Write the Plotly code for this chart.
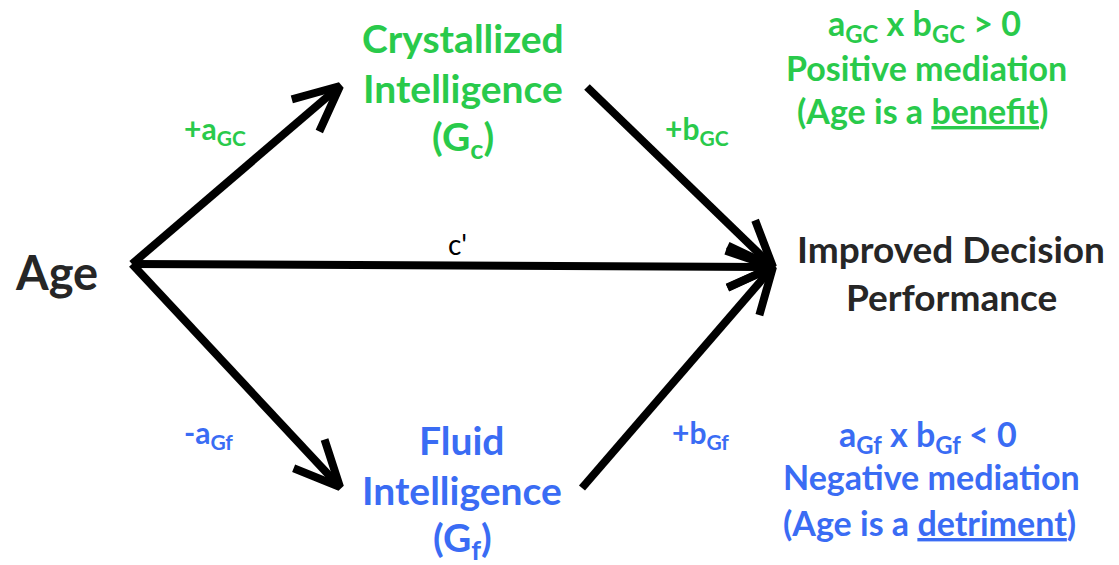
import math
import plotly.graph_objects as go

# ---- diagram content ----
GREEN = "#29CA4B"
BLUE = "#3A6CF4"
DARK = "#262626"

# edges: (start point, tip point)
edge_names = ["Age->Gc", "Age->Outcome", "Age->Gf", "Gc->Outcome", "Gf->Outcome"]
edge_x0 = [132, 132, 132, 587, 582]
edge_y0 = [264, 264, 264, 87, 488]
edge_x1 = [340, 773, 340, 773, 773]
edge_y1 = [86, 267, 487, 267, 267]

# path labels
path_labels = ["+a<sub>GC</sub>", "+b<sub>GC</sub>", "-a<sub>Gf</sub>", "+b<sub>Gf</sub>", "c'"]
path_label_x = [215, 697, 208, 700, 457]
path_label_y = [130, 130, 434, 434, 244]
path_label_color = [GREEN, GREEN, BLUE, BLUE, "#000000"]

# node labels (one line each)
node_lines = ["Age", "Crystallized", "Intelligence", "(G<sub>c</sub>)",
              "Fluid", "Intelligence", "(G<sub>f</sub>)",
              "Improved Decision", "Performance"]
node_x = [56, 463, 463, 463, 462, 462, 462, 951, 951]
node_y = [272, 38, 88, 139, 440, 490, 540, 248, 296]
node_color = [DARK, GREEN, GREEN, GREEN, BLUE, BLUE, BLUE, DARK, DARK]
node_size = [47, 39, 39, 39, 39, 39, 39, 37, 37]

# mediation notes
note_lines = ["a<sub>GC</sub> x b<sub>GC</sub> > 0", "Positive mediation",
              "(Age is a <u>benefit</u>)",
              "a<sub>Gf</sub> x b<sub>Gf</sub> < 0", "Negative mediation",
              "(Age is a <u>detriment</u>)"]
note_x = [924, 926, 922, 928, 931, 929]
note_y = [25, 67, 110, 436, 476, 522]
note_color = [GREEN, GREEN, GREEN, BLUE, BLUE, BLUE]

FONT = "Lato"

# page body has an 8px default margin: map data pixels onto the screen
OFF = 8
W, H = 1119, 565

fig = go.Figure()

HEAD_LEN = 50
HEAD_ANG = math.radians(25)
for x0, y0, x1, y1 in zip(edge_x0, edge_y0, edge_x1, edge_y1):
    dx, dy = x0 - x1, y0 - y1
    L = math.hypot(dx, dy)
    ux, uy = dx / L, dy / L
    arms = []
    for s in (1, -1):
        c, sn = math.cos(s * HEAD_ANG), math.sin(s * HEAD_ANG)
        ax = ux * c - uy * sn
        ay = ux * sn + uy * c
        arms.append((x1 + HEAD_LEN * ax, y1 + HEAD_LEN * ay))
    fig.add_trace(go.Scatter(
        x=[x0, x1, None, arms[0][0], x1, arms[1][0]],
        y=[y0, y1, None, arms[0][1], y1, arms[1][1]],
        mode="lines", line=dict(color="black", width=8),
        hoverinfo="skip", showlegend=False))

for t, x, y, c in zip(path_labels, path_label_x, path_label_y, path_label_color):
    bold = c != "#000000"
    fig.add_annotation(x=x, y=y, text="<b>%s</b>" % t if bold else t,
                       showarrow=False,
                       font=dict(family=FONT, size=30 if bold else 28, color=c),
                       xanchor="center", yanchor="middle")

for t, x, y, c, s in zip(node_lines, node_x, node_y, node_color, node_size):
    fig.add_annotation(x=x, y=y, text="<b>%s</b>" % t, showarrow=False,
                       font=dict(family=FONT, size=s, color=c),
                       xanchor="center", yanchor="middle")

for t, x, y, c in zip(note_lines, note_x, note_y, note_color):
    fig.add_annotation(x=x, y=y, text="<b>%s</b>" % t, showarrow=False,
                       font=dict(family=FONT, size=34, color=c),
                       xanchor="center", yanchor="middle")

fig.update_layout(
    width=W - OFF, height=H - OFF,
    margin=dict(l=0, r=0, t=0, b=0),
    paper_bgcolor="white", plot_bgcolor="white",
    xaxis=dict(range=[OFF, W], visible=False, fixedrange=True),
    yaxis=dict(range=[H, OFF], visible=False, fixedrange=True),
)

fig.write_html("out.html")
